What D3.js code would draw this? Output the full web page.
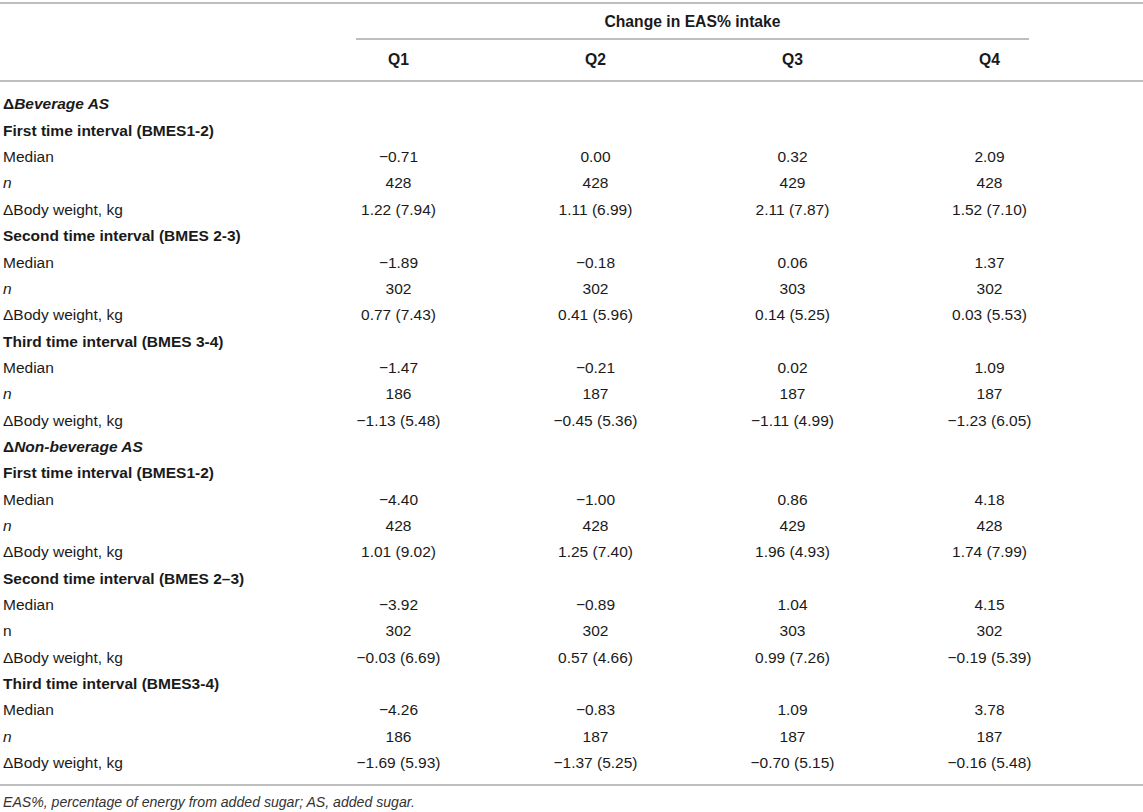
<!DOCTYPE html>
<html><head><meta charset="utf-8">
<script src="https://cdn.jsdelivr.net/npm/d3@7/dist/d3.min.js"></script>
<style>
html,body{margin:0;padding:0;background:#fff;}
svg{display:block;font-family:"Liberation Sans",Arial,Helvetica,sans-serif;}
</style></head>
<body>
<svg id="t" width="1143" height="812"></svg>
<script>
const quartiles = ["Q1","Q2","Q3","Q4"];
const spanHeader = "Change in EAS% intake";
const groups = ["Beverage AS","Non-beverage AS"];
const intervalLabels = [
  ["First time interval (BMES1-2)","Second time interval (BMES 2-3)","Third time interval (BMES 3-4)"],
  ["First time interval (BMES1-2)","Second time interval (BMES 2\u20133)","Third time interval (BMES3-4)"]
];
const medians = [
  [[-0.71,0.00,0.32,2.09],[-1.89,-0.18,0.06,1.37],[-1.47,-0.21,0.02,1.09]],
  [[-4.40,-1.00,0.86,4.18],[-3.92,-0.89,1.04,4.15],[-4.26,-0.83,1.09,3.78]]
];
const counts = [
  [[428,428,429,428],[302,302,303,302],[186,187,187,187]],
  [[428,428,429,428],[302,302,303,302],[186,187,187,187]]
];
const weightMean = [
  [[1.22,1.11,2.11,1.52],[0.77,0.41,0.14,0.03],[-1.13,-0.45,-1.11,-1.23]],
  [[1.01,1.25,1.96,1.74],[-0.03,0.57,0.99,-0.19],[-1.69,-1.37,-0.70,-0.16]]
];
const weightSD = [
  [[7.94,6.99,7.87,7.10],[7.43,5.96,5.25,5.53],[5.48,5.36,4.99,6.05]],
  [[9.02,7.40,4.93,7.99],[6.69,4.66,7.26,5.39],[5.93,5.25,5.15,5.48]]
];
const nItalic = [[true,true,true],[true,false,true]];
const footnote = "EAS%, percentage of energy from added sugar; AS, added sugar.";

const fmt = v => v.toFixed(2).replace("-", "\u2212");

// build rows
const rows = [];
groups.forEach((g, gi) => {
  rows.push({type:"group", label:g});
  intervalLabels[gi].forEach((lab, ii) => {
    rows.push({type:"interval", label:lab});
    rows.push({type:"data", label:"Median", vals: medians[gi][ii].map(fmt)});
    rows.push({type:"data", label:"n", italic:nItalic[gi][ii], vals: counts[gi][ii].map(String)});
    rows.push({type:"data", label:"\u0394Body weight, kg", vals: weightMean[gi][ii].map((m,k)=>fmt(m)+" ("+weightSD[gi][ii][k].toFixed(2)+")")});
  });
});

const W = 1143;
const svg = d3.select("#t");
const textColor = "#1a1a1a";
const lineColor = "#a8a8a8";
const fs = 15.5;

const x = d3.scaleBand().domain(quartiles).range([300, 1088]);
const y = d3.scaleBand().domain(d3.range(rows.length)).range([90.8, 90.8 + rows.length*26.35]);

function hline(x1, x2, yy){
  svg.append("line").attr("x1",x1).attr("x2",x2).attr("y1",yy).attr("y2",yy)
    .attr("stroke",lineColor).attr("stroke-width",1.5);
}
hline(0, W, 3);
hline(356, 1029, 39);
hline(0, W, 81);
hline(0, W, 785);

svg.append("text").attr("x",(356+1029)/2).attr("y",22).attr("dy","0.35em")
  .attr("text-anchor","middle").attr("font-weight","bold").attr("font-size",15.7)
  .attr("fill",textColor).text(spanHeader);

svg.selectAll("text.q").data(quartiles).join("text").attr("class","q")
  .attr("x", d => x(d) + x.bandwidth()/2).attr("y", 60).attr("dy","0.35em")
  .attr("text-anchor","middle").attr("font-weight","bold").attr("font-size",15.7)
  .attr("fill",textColor).text(d=>d);

const rg = svg.selectAll("g.row").data(rows).join("g").attr("class","row")
  .attr("transform",(d,i)=>`translate(0,${y(i)+y.bandwidth()/2})`);

rg.each(function(d){
  const g = d3.select(this);
  const t = g.append("text").attr("x",3).attr("dy","0.35em").attr("font-size",fs).attr("fill",textColor);
  if (d.type === "group") {
    t.attr("font-weight","bold");
    t.append("tspan").text("\u0394");
    t.append("tspan").attr("font-style","italic").text(d.label);
  } else if (d.type === "interval") {
    t.attr("font-weight","bold").text(d.label);
  } else {
    if (d.italic) t.attr("font-style","italic");
    t.text(d.label);
    g.selectAll("text.v").data(d.vals).join("text").attr("class","v")
      .attr("x",(v,k)=>x(quartiles[k]) + x.bandwidth()/2).attr("dy","0.35em")
      .attr("text-anchor","middle").attr("font-size",fs).attr("fill",textColor).text(v=>v);
  }
});

svg.append("text").attr("x",3).attr("y",802).attr("dy","0.35em")
  .attr("font-size",14.1).attr("font-style","italic").attr("fill","#333").text(footnote);
</script>
</body></html>
